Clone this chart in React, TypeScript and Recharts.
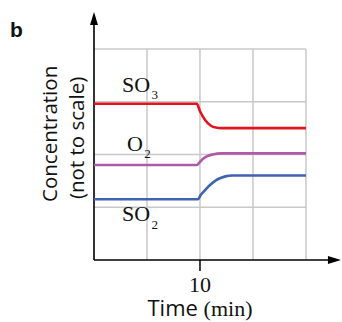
import { LineChart, Line, XAxis, YAxis, ReferenceLine, ReferenceDot } from 'recharts';

// time (min) and concentration values (arbitrary units)
const so3Time = [0, 9.7, 10, 10.5, 11, 11.5, 12, 20];
const so3Conc = [2.96, 2.96, 2.82, 2.65, 2.55, 2.51, 2.5, 2.5];
const o2Time = [0, 9.7, 10, 10.3, 10.7, 11.2, 12, 20];
const o2Conc = [1.8, 1.8, 1.86, 1.92, 1.97, 2.0, 2.02, 2.02];
const so2Time = [0, 9.8, 10.1, 10.5, 11, 11.5, 12, 12.5, 13, 20];
const so2Conc = [1.15, 1.15, 1.24, 1.33, 1.43, 1.51, 1.56, 1.59, 1.6, 1.6];

const xTicks = [10];
const gridX = [5, 10, 15, 20];
const gridY = [1, 2, 3, 4];

const SANS = '"Open Sans", sans-serif';
const SERIF = '"Liberation Serif", serif';

const zip = (ts: number[], vs: number[]) => ts.map((t, i) => ({ t, c: vs[i] }));
const so3Data = zip(so3Time, so3Conc);
const o2Data = zip(o2Time, o2Conc);
const so2Data = zip(so2Time, so2Conc);

const Arrow = (props: any) => {
  const { x1, y1, x2, y2 } = props;
  const len = 13;
  const half = 4;
  const horiz = Math.abs(y2 - y1) < Math.abs(x2 - x1);
  const pts = horiz
    ? `${x2},${y2} ${x2 - len},${y2 - half} ${x2 - len},${y2 + half}`
    : `${x2},${y2} ${x2 - half},${y2 + len} ${x2 + half},${y2 + len}`;
  return (
    <g>
      <line x1={x1} y1={y1} x2={horiz ? x2 - len + 2 : x2} y2={horiz ? y2 : y2 + len - 2} stroke="#000" strokeWidth={1.6} />
      <polygon points={pts} fill="#000" />
    </g>
  );
};

const chemLabel = (main: string, sub: string, subDy: number) => (p: any) => {
  const { x, y } = p.viewBox;
  return (
    <text x={x} y={y} fontFamily={SERIF} fontSize={22} fill="#111">
      {main}
      <tspan fontSize={13} dx={1.5} dy={subDy}>{sub}</tspan>
    </text>
  );
};

const yTitle = (p: any) => {
  const { x, y } = p.viewBox;
  return (
    <g fontFamily={SANS} fontSize={20.5} fill="#111" textAnchor="middle">
      <text x={x} y={y} transform={`rotate(-90, ${x}, ${y})`}>Concentration</text>
      <text x={x + 27} y={y + 4} transform={`rotate(-90, ${x + 27}, ${y + 4})`}>(not to scale)</text>
    </g>
  );
};

const xTitle = (p: any) => {
  const { x, y } = p.viewBox;
  return (
    <text x={x} y={y + 56} textAnchor="middle" fontSize={22} fill="#111">
      <tspan fontFamily={SANS}>Time </tspan>
      <tspan fontFamily={SERIF}>(min)</tspan>
    </text>
  );
};

const panelLetter = (p: any) => {
  const { x, y } = p.viewBox;
  return (
    <text x={x} y={y} fontFamily='"Liberation Sans", sans-serif' fontWeight="bold" fontSize={21} fill="#111">
      b
    </text>
  );
};

export default function App() {
  return (
    <div style={{ position: 'absolute', left: 0, top: 0, background: '#fff' }}>
      <LineChart width={342} height={322} margin={{ top: 12, right: 0, left: 94, bottom: 22 }}>
        <XAxis
          type="number"
          dataKey="t"
          domain={[0, 23.4]}
          allowDataOverflow
          ticks={xTicks}
          axisLine={false}
          tickLine={{ stroke: '#000', strokeWidth: 1.5 }}
          tickSize={11}
          tickMargin={5}
          height={40}
          tick={{ fontFamily: SERIF, fontSize: 22, fill: '#111' }}
        />
        <YAxis type="number" domain={[0, 4.7]} allowDataOverflow hide />
        {gridY.map((v) => (
          <ReferenceLine key={'gy' + v} segment={[{ x: 0, y: v }, { x: 20, y: v }]} stroke="#c8c8c8" strokeWidth={1.5} />
        ))}
        {gridX.map((v) => (
          <ReferenceLine key={'gx' + v} segment={[{ x: v, y: 0 }, { x: v, y: 4 }]} stroke="#c8c8c8" strokeWidth={1.5} />
        ))}
        <ReferenceLine segment={[{ x: 0, y: 0 }, { x: 23.3, y: 0 }]} shape={Arrow} />
        <ReferenceLine segment={[{ x: 0, y: 0 }, { x: 0, y: 4.7 }]} shape={Arrow} />
        <Line data={so3Data} dataKey="c" type="monotone" stroke="#e5131d" strokeWidth={2.6} dot={false} isAnimationActive={false} />
        <Line data={o2Data} dataKey="c" type="monotone" stroke="#b05aa7" strokeWidth={2.6} dot={false} isAnimationActive={false} />
        <Line data={so2Data} dataKey="c" type="monotone" stroke="#3f63b1" strokeWidth={2.6} dot={false} isAnimationActive={false} />
        <ReferenceDot x={2.64} y={3.18} r={0} ifOverflow="visible" label={chemLabel('SO', '3', 7)} />
        <ReferenceDot x={3.11} y={2.07} r={0} ifOverflow="visible" label={chemLabel('O', '2', 7.5)} />
        <ReferenceDot x={2.64} y={0.73} r={0} ifOverflow="visible" label={chemLabel('SO', '2', 8)} />
        <ReferenceDot x={-3.49} y={2.39} r={0} ifOverflow="visible" label={yTitle} />
        <ReferenceDot x={10} y={0} r={0} ifOverflow="visible" label={xTitle} />
        <ReferenceDot x={-7.92} y={4.22} r={0} ifOverflow="visible" label={panelLetter} />
      </LineChart>
    </div>
  );
}
